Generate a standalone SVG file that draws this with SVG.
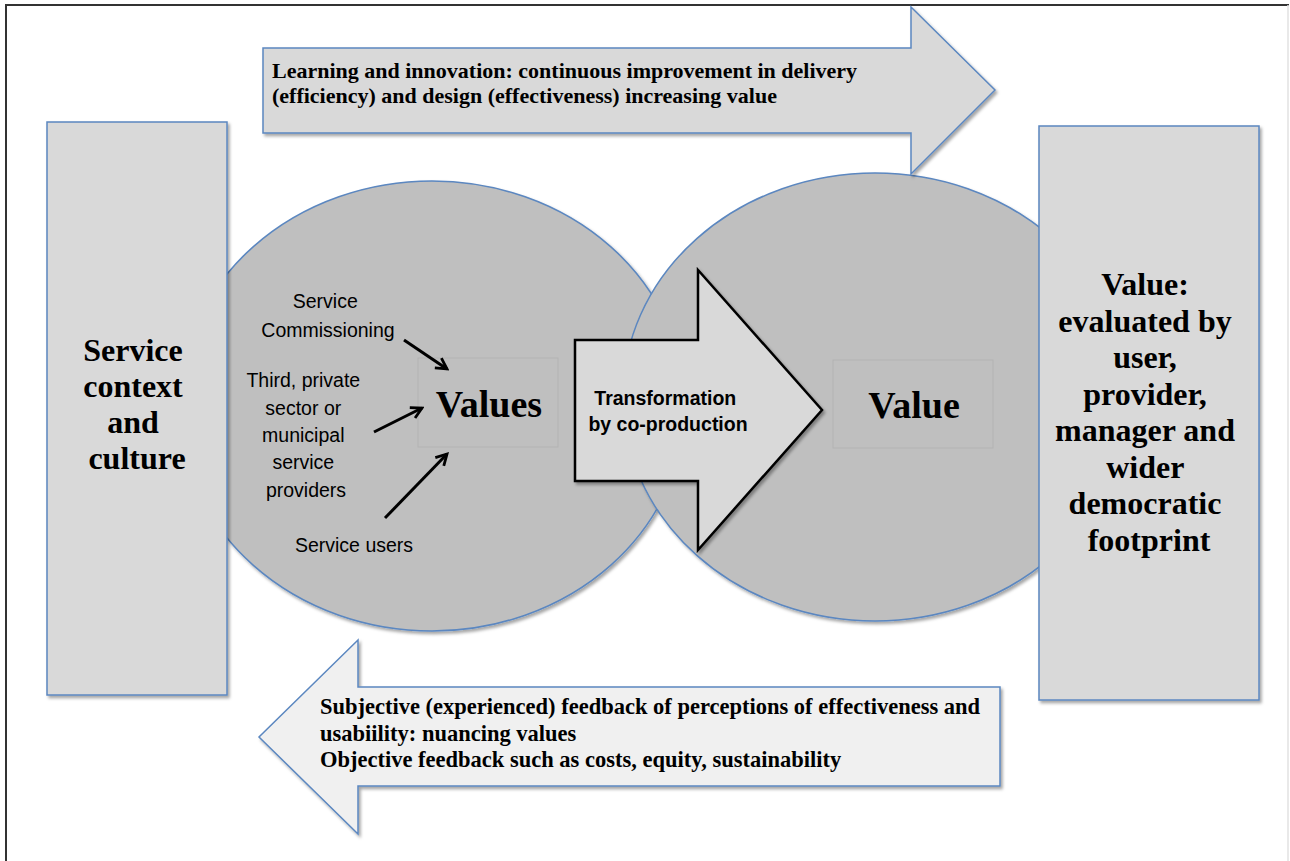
<svg xmlns="http://www.w3.org/2000/svg" width="1290" height="861" viewBox="0 0 1290 861">
  <style>
    .serif { font-family: "Liberation Serif", "Times New Roman", serif; font-weight: bold; fill: #000; }
    .sans { font-family: "Liberation Sans", Arial, sans-serif; fill: #000; }
    .box { fill: #d9d9d9; stroke: #5b87c0; stroke-width: 1.5; }
    .disc { fill: #bfbfbf; stroke: #5b87c0; stroke-width: 1.5; }
    .faint { fill: none; stroke: #b3b3b3; stroke-width: 1; }
    .pointer { stroke: #000; stroke-width: 3; fill: none; }
  </style>
  <defs>
    <filter id="shadow" x="-5%" y="-5%" width="115%" height="115%">
      <feDropShadow dx="2" dy="2.5" stdDeviation="1.5" flood-color="#000" flood-opacity="0.35"/>
    </filter>
    <marker id="head" viewBox="0 0 14 14" refX="12" refY="7" markerWidth="15" markerHeight="15" markerUnits="userSpaceOnUse" orient="auto">
      <path d="M2,1.5 L12,7 L2,12.5" fill="none" stroke="#000" stroke-width="2.6"/>
    </marker>
  </defs>

  <rect width="1290" height="861" fill="#ffffff"/>

  <!-- page frame -->
  <g id="frame">
    <line x1="5" y1="5" x2="1289" y2="5" stroke="#333" stroke-width="2"/>
    <line x1="6" y1="5" x2="6" y2="861" stroke="#333" stroke-width="2"/>
    <line x1="1288" y1="5" x2="1288" y2="861" stroke="#e2e2e2" stroke-width="1.5"/>
  </g>

  <!-- the two overlapping discs -->
  <g id="values-disc">
    <ellipse class="disc" cx="432" cy="406" rx="253" ry="225" filter="url(#shadow)"/>
  </g>
  <g id="value-disc">
    <ellipse class="disc" cx="875" cy="397" rx="252" ry="224" filter="url(#shadow)"/>
  </g>

  <!-- side panels -->
  <g id="context">
    <rect class="box" x="47" y="122" width="180" height="573" filter="url(#shadow)"/>
    <text class="serif" font-size="32" text-anchor="middle">
      <tspan x="137" y="361">Service</tspan>
      <tspan x="137" y="397">context</tspan>
      <tspan x="137" y="433">and</tspan>
      <tspan x="137" y="469">culture</tspan>
    </text>
  </g>

  <g id="evaluation">
    <rect class="box" x="1039" y="126" width="220" height="574" filter="url(#shadow)"/>
    <text class="serif" font-size="32" text-anchor="middle">
      <tspan x="1149" y="295">Value:</tspan>
      <tspan x="1149" y="331.5">evaluated by</tspan>
      <tspan x="1149" y="368">user,</tspan>
      <tspan x="1149" y="404.5">provider,</tspan>
      <tspan x="1149" y="441">manager and</tspan>
      <tspan x="1149" y="477.5">wider</tspan>
      <tspan x="1149" y="514">democratic</tspan>
      <tspan x="1149" y="550.5">footprint</tspan>
    </text>
  </g>

  <!-- learning loop (top) -->
  <g id="learning">
    <polygon class="box" points="263,48 911,48 911,7 995,90 911,174 911,133 263,133" filter="url(#shadow)"/>
    <text class="serif" font-size="22">
      <tspan x="272" y="78">Learning and innovation: continuous improvement in delivery</tspan>
      <tspan x="272" y="103">(efficiency) and design (effectiveness) increasing value</tspan>
    </text>
  </g>

  <!-- feedback loop (bottom) -->
  <g id="feedback">
    <polygon class="box" style="fill:#f0f0f0" points="1000,687 358,687 358,640 259,737 358,834 358,786 1000,786" filter="url(#shadow)"/>
    <text class="serif" font-size="22.5">
      <tspan x="320" y="714">Subjective (experienced) feedback of perceptions of effectiveness and</tspan>
      <tspan x="320" y="741">usabiility: nuancing values</tspan>
      <tspan x="320" y="767">Objective feedback such as costs, equity, sustainability</tspan>
    </text>
  </g>

  <!-- inputs feeding the values -->
  <g id="values">
    <rect class="faint" x="418" y="358" width="140" height="89"/>
    <text class="serif" font-size="38" text-anchor="middle" x="489" y="417">Values</text>
  </g>

  <g id="commissioning">
    <text class="sans" font-size="19.5" text-anchor="middle">
      <tspan x="328" y="308">Service</tspan>
      <tspan x="328" y="337">Commissioning</tspan>
    </text>
  </g>

  <g id="providers">
    <text class="sans" font-size="19.5" text-anchor="middle">
      <tspan x="306" y="387">Third, private</tspan>
      <tspan x="306" y="415">sector or</tspan>
      <tspan x="306" y="442">municipal</tspan>
      <tspan x="306" y="469">service</tspan>
      <tspan x="306" y="497">providers</tspan>
    </text>
  </g>

  <g id="users">
    <text class="sans" font-size="19.5" text-anchor="middle" x="354" y="552">Service users</text>
  </g>

  <!-- co-production step -->
  <g id="transformation">
    <polygon points="575,340 698,340 698,270 822,410 698,550 698,481 575,481" fill="#d9d9d9" stroke="#000" stroke-width="2.5" stroke-linejoin="miter" filter="url(#shadow)"/>
    <text class="sans" font-size="19.5" font-weight="bold" text-anchor="middle">
      <tspan x="668" y="405">Transformation</tspan>
      <tspan x="668" y="431">by co-production</tspan>
    </text>
  </g>

  <g id="value">
    <rect class="faint" x="833" y="360" width="160" height="88"/>
    <text class="serif" font-size="38" text-anchor="middle" x="914" y="418">Value</text>
  </g>

  <!-- connectors -->
  <g id="connectors">
    <line class="pointer" x1="404" y1="340" x2="447" y2="369" marker-end="url(#head)"/>
    <line class="pointer" x1="374" y1="432" x2="422" y2="408" marker-end="url(#head)"/>
    <line class="pointer" x1="385" y1="518" x2="447" y2="454" marker-end="url(#head)"/>
  </g>
</svg>
